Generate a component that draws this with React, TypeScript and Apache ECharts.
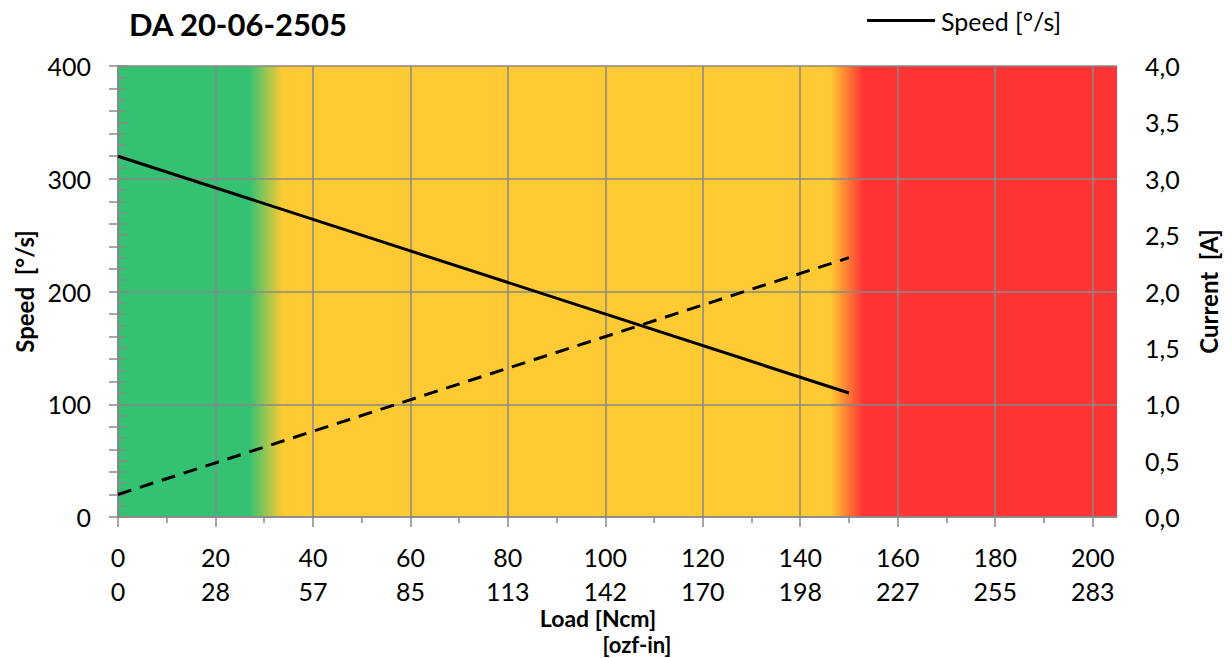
import React, { useEffect, useRef } from "react";
import * as echarts from "echarts";

const title = "DA 20-06-2505";
const loadNcm = [0, 150];
const speedDegS = [320, 110];
const currentA = [0.2, 2.3];
const ncmTicks = [0, 20, 40, 60, 80, 100, 120, 140, 160, 180, 200];
const ozfTicks = [0, 28, 57, 85, 113, 142, 170, 198, 227, 255, 283];
const minorTicks = [10, 30, 50, 70, 90, 110, 130, 150, 170, 190];
// background zones [start, end] in Ncm and colour stops positions (Ncm)
const zoneRange = [0, 205];
const zoneStops = [0, 27, 33.8, 146.2, 152.9, 205];
const zoneColors = ["#35C172", "#35C172", "#FFCA33", "#FFCA33", "#FF3535", "#FF3535"];

const FONT = "Lato";
const GRAY = "#898989";

export default function App() {
  const ref = useRef<HTMLDivElement>(null);
  useEffect(() => {
    document.body.style.margin = "0";
    const chart = echarts.init(ref.current!, null, { renderer: "svg" });
    const span = zoneRange[1] - zoneRange[0];
    const stops = zoneStops.map((s, i) => ({ offset: (s - zoneRange[0]) / span, color: zoneColors[i] }));
    const option: any = {
      animation: false,
      textStyle: { fontFamily: FONT },
      grid: { left: 118, top: 66, right: 114, bottom: 141, containLabel: false, outerBoundsMode: "none" },
      legend: {
        data: ["Speed [°/s]"],
        left: 862,
        top: 3,
        icon: "rect",
        itemWidth: 68,
        itemHeight: 3,
        itemGap: 10,
        textStyle: { fontFamily: FONT, fontSize: 25, color: "#000", padding: [0, 0, 0, 1] },
      },
      graphic: [
        {
          type: "text",
          left: 129,
          top: 8,
          style: { text: title, fontFamily: FONT, fontWeight: "bold", fontSize: 31, fill: "#000" },
        },
        {
          type: "text",
          x: 598,
          y: 618,
          style: { text: "Load [Ncm]", fontFamily: FONT, fontWeight: "bold", fontSize: 23, fill: "#000", align: "center", verticalAlign: "middle" },
        },
        {
          type: "text",
          x: 637,
          y: 644.5,
          style: { text: "[ozf-in]", fontFamily: FONT, fontWeight: "bold", fontSize: 22, fill: "#000", align: "center", verticalAlign: "middle" },
        },
      ],
      xAxis: [
        {
          type: "value",
          min: 0,
          max: 205,
          interval: 20,
          position: "bottom",
          axisLine: { show: true, lineStyle: { color: GRAY, width: 1.5 } },
          axisTick: { show: true, customValues: ncmTicks, length: 10, lineStyle: { color: GRAY, width: 1.5 } },
          axisLabel: {
            customValues: ncmTicks,
            margin: 23,
            formatter: (v: number) => {
              const i = ncmTicks.indexOf(v);
              return `{a|${v}}\n{a|${i >= 0 ? ozfTicks[i] : ""}}`;
            },
            rich: { a: { fontFamily: FONT, fontSize: 25, color: "#000", lineHeight: 34 } },
          },
          splitLine: { show: true, lineStyle: { color: GRAY, width: 1.5 } },
        },
        {
          type: "value",
          min: 0,
          max: 205,
          position: "bottom",
          axisLine: { show: false },
          axisTick: { show: true, customValues: minorTicks, length: 6, lineStyle: { color: GRAY, width: 1.5 } },
          axisLabel: { show: false },
          splitLine: { show: false },
        },
      ],
      yAxis: [
        {
          type: "value",
          min: 0,
          max: 400,
          interval: 100,
          name: "Speed  [°/s]",
          nameLocation: "middle",
          nameGap: 81,
          nameRotate: 90,
          nameTextStyle: { fontFamily: FONT, fontWeight: "bold", fontSize: 24, color: "#000" },
          axisLine: { show: true, lineStyle: { color: GRAY, width: 1.5 } },
          axisTick: { show: true, length: 9, lineStyle: { color: GRAY, width: 1.5 } },
          minorTick: { show: true, splitNumber: 5, length: 9, lineStyle: { color: GRAY, width: 1.5 } },
          axisLabel: { fontFamily: FONT, fontSize: 25, color: "#000", margin: 27 },
          splitLine: { show: true, lineStyle: { color: GRAY, width: 1.5 } },
        },
        {
          type: "value",
          min: 0,
          max: 4,
          interval: 0.5,
          position: "right",
          name: "Current  [A]",
          nameLocation: "middle",
          nameGap: 79,
          nameRotate: 90,
          nameTextStyle: { fontFamily: FONT, fontWeight: "bold", fontSize: 24, color: "#000" },
          axisLine: { show: true, lineStyle: { color: GRAY, width: 1.5 } },
          axisTick: { show: true, length: 10, lineStyle: { color: GRAY, width: 1.5 } },
          minorTick: { show: true, splitNumber: 5, length: 8, lineStyle: { color: GRAY, width: 1.5 } },
          axisLabel: {
            fontFamily: FONT,
            fontSize: 25,
            color: "#000",
            margin: 28,
            formatter: (v: number) => v.toFixed(1).replace(".", ","),
          },
          splitLine: { show: false },
        },
      ],
      series: [
        {
          type: "custom",
          name: "zones",
          z: -1,
          silent: true,
          xAxisIndex: 0,
          yAxisIndex: 0,
          data: [[zoneRange[0], zoneRange[1]]],
          renderItem: (params: any, api: any) => {
            const p0 = api.coord([api.value(0), 400]);
            const p1 = api.coord([api.value(1), 0]);
            return {
              type: "rect",
              shape: { x: p0[0], y: p0[1], width: p1[0] - p0[0], height: p1[1] - p0[1] },
              style: { fill: new echarts.graphic.LinearGradient(0, 0, 1, 0, stops) },
            };
          },
        },
        {
          type: "line",
          name: "Speed [°/s]",
          xAxisIndex: 0,
          yAxisIndex: 0,
          data: loadNcm.map((x, i) => [x, speedDegS[i]]),
          symbol: "none",
          itemStyle: { color: "#000" },
          lineStyle: { color: "#000", width: 3 },
        },
        {
          type: "line",
          name: "Current [A]",
          xAxisIndex: 0,
          yAxisIndex: 1,
          data: loadNcm.map((x, i) => [x, currentA[i]]),
          symbol: "none",
          itemStyle: { color: "#000" },
          lineStyle: { color: "#000", width: 3, type: [14, 9] },
        },
      ],
    };
    chart.setOption(option);
    return () => chart.dispose();
  }, []);
  return <div ref={ref} style={{ width: 1231, height: 658, position: "absolute", left: 0, top: 0 }} />;
}
